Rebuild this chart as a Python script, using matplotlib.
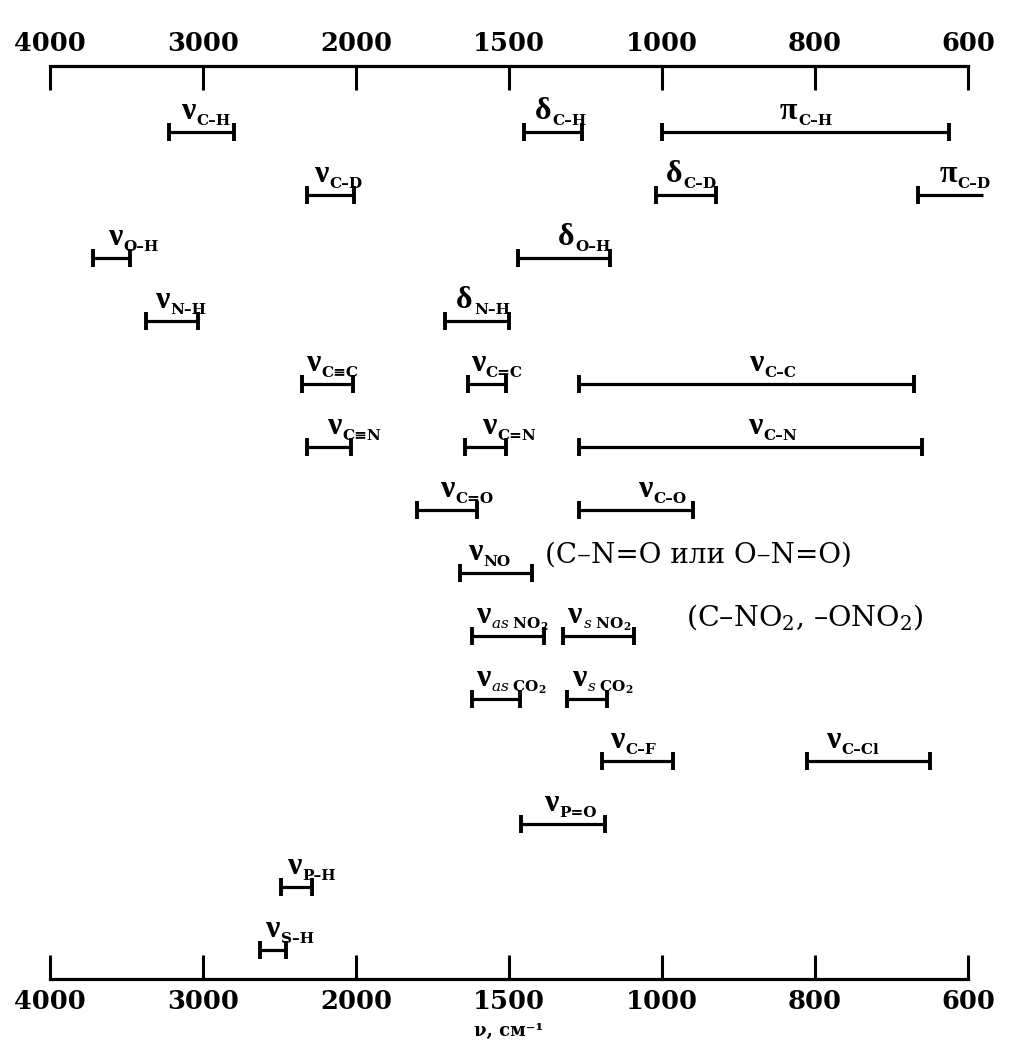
import numpy as np
import matplotlib
matplotlib.use("Agg")
import matplotlib.pyplot as plt

plt.rcParams["font.family"] = ["DejaVu Serif"]
plt.rcParams["mathtext.fontset"] = "dejavuserif"

# Wavenumber axis breakpoints (cm^-1); each labelled interval gets equal width
axis_ticks = [4000, 3000, 2000, 1500, 1000, 800, 600]

# Absorption ranges: row, symbol, subscript, start (cm^-1), end (cm^-1)
rows = [0, 0, 0, 1, 1, 1, 2, 2, 3, 3, 4, 4, 4, 5, 5, 5, 6, 6, 7, 8, 8, 9, 9,
        10, 10, 11, 12, 13]
symbols = ["ν", "δ", "π", "ν", "δ", "π", "ν", "δ", "ν", "δ", "ν", "ν", "ν",
           "ν", "ν", "ν", "ν", "ν", "ν", "ν", "ν", "ν", "ν", "ν", "ν", "ν",
           "ν", "ν"]
subscripts = ["C–H", "C–H", "C–H", "C–D", "C–D", "C–D", "O–H", "O–H",
              "N–H", "N–H", "C≡C", "C=C", "C–C", "C≡N", "C=N", "C–N",
              "C=O", "C–O", "NO",
              r"$\mathit{as}\ \mathbf{NO_2}$", r"$\mathit{s}\ \mathbf{NO_2}$",
              r"$\mathit{as}\ \mathbf{CO_2}$", r"$\mathit{s}\ \mathbf{CO_2}$",
              "C–F", "C–Cl", "P=O", "P–H", "S–H"]
wn_start = [3220, 1450, 1000, 2320, 1020, 665, 3720, 1470, 3370, 1710,
            2350, 1635, 1270, 2320, 1645, 1270, 1800, 1270, 1660, 1620,
            1325, 1620, 1310, 1195, 810, 1460, 2490, 2630]
wn_end = [2800, 1260, 625, 2010, 930, 580, 3480, 1170, 3030, 1500,
          2020, 1510, 670, 2030, 1510, 660, 1605, 960, 1425, 1385,
          1090, 1465, 1180, 985, 650, 1185, 2290, 2460]
# ranges that continue past the chart edge (no closing cap)
open_end = [False, False, False, False, False, True] + [False] * 22

# horizontal shift (pixels) of each label junction from its bar centre
label_shift_px = [-6, -2, -8, -2, -3, 6, 11, 10, -3, -4, -7, -2, 16, 12, 11,
                  12, 7, 16, -14, -18, -17, -6, -1, -14, -28, -5, 5, 7]

T = np.array(axis_ticks, float)
I = np.arange(len(T), dtype=float)


def _index(w):
    w = np.asarray(w, float)
    p = np.interp(-w, -T, I)
    p = np.where(w > T[0], (T[0] - w) / (T[0] - T[1]), p)
    p = np.where(w < T[-1], I[-1] + (T[-1] - w) / (T[-2] - T[-1]), p)
    return p


def _wavenumber(p):
    p = np.asarray(p, float)
    w = np.interp(p, I, T)
    w = np.where(p < 0, T[0] - p * (T[0] - T[1]), w)
    w = np.where(p > I[-1], T[-1] - (p - I[-1]) * (T[-2] - T[-1]), w)
    return w


# increasing transform: higher wavenumber -> larger value
def fwd(w):
    return -_index(w)


def inv(q):
    return _wavenumber(-np.asarray(q, float))


W, H = 1025, 1053
fig = plt.figure(figsize=(W / 100, H / 100), dpi=100)
ax = fig.add_axes([50 / W, 1 - 979 / H, (968 - 50) / W, (979 - 66) / H])
ax.set_xscale("function", functions=(fwd, inv))
ax.set_xlim(4000, 600)
ax.set_ylim(13.455, -1.047)

for s in ("left", "right"):
    ax.spines[s].set_visible(False)
for s in ("top", "bottom"):
    ax.spines[s].set_linewidth(2.3)
ax.set_yticks([])
ax.set_xticks(axis_ticks)
ax.set_xticklabels([str(t) for t in axis_ticks])
ax.minorticks_off()
ax.tick_params(axis="x", which="major", top=True, bottom=True,
               labeltop=True, labelbottom=True, direction="in",
               length=17, width=2.2, pad=7, labelsize=18.5)
for t in ax.xaxis.get_major_ticks():
    t.label1.set_fontweight("bold")
    t.label2.set_fontweight("bold")

ax.set_xlabel("ν, см⁻¹", fontsize=13, fontweight="bold", labelpad=6)

px = 72 / 100  # points per pixel
for i in range(len(rows)):
    r = rows[i]
    a, b = wn_start[i], wn_end[i]
    ax.plot([a, b], [r, r], color="black", lw=2.3, solid_capstyle="butt",
            marker="|", markersize=12.5, markeredgewidth=2.8,
            markevery=[0] if open_end[i] else [0, 1], clip_on=False)
    centre = float(inv((fwd(a) + fwd(b)) / 2))
    dx = label_shift_px[i] * px
    ax.annotate(symbols[i], xy=(centre, r), xytext=(dx, 13 * px),
                textcoords="offset points", ha="right", va="baseline",
                fontsize=23, family="Liberation Serif", fontweight="bold",
                annotation_clip=False)
    ax.annotate(subscripts[i], xy=(centre, r),
                xytext=(dx + 1 * px, 7 * px),
                textcoords="offset points", ha="left", va="baseline",
                fontsize=11, fontweight="bold", annotation_clip=False)

# notes on the nitro / nitroso rows
ax.annotate("(C–N=O или O–N=O)", xy=(wn_end[18], rows[18]),
            xytext=(13 * px, 10 * px), textcoords="offset points",
            ha="left", va="baseline", fontsize=20)
ax.annotate("(C–NO$_2$, –ONO$_2$)", xy=(wn_end[20], rows[20]),
            xytext=(52 * px, 10 * px), textcoords="offset points",
            ha="left", va="baseline", fontsize=20.5)

fig.savefig("out.png", dpi=100, facecolor="white")
